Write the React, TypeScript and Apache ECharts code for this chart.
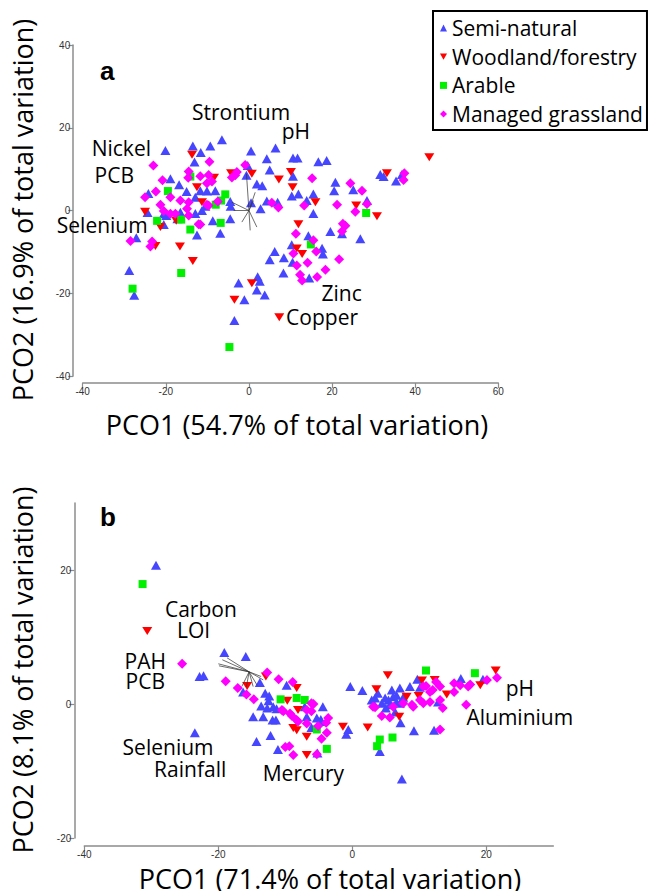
import React, { useEffect, useRef } from "react";
import * as echarts from "echarts";

// ---------- Panel a data (PCO1, PCO2) ----------
const SEMI_A: [number, number][] = [
  [-20.1,14.5],[-13.5,15.6],[-9.3,15.6],[-6.5,17.1],[-11.6,14.0],[-13.1,11.7],[0.5,14.4],[4.3,12.5],[6.4,15.1],[10.6,12.7],[11.7,12.7],[16.7,11.8],[18.7,12.1],[-0.3,10.9],[5.0,9.8],[10.6,8.3],[1.9,6.4],[3.2,6.0],[20.8,6.8],[20.5,4.8],[25.1,5.0],[11.9,4.0],[10.3,3.5],[15.5,4.0],[13.9,2.4],[0.5,1.9],[4.3,2.3],[6.9,2.0],[2.8,0.4],[15.5,-0.7],[-4.4,1.0],[-24.2,4.1],[-16.8,6.2],[-18.9,7.7],[-15.0,4.6],[-12.9,3.2],[-11.7,4.8],[-10.1,4.7],[-8.1,4.8],[-24.4,-0.5],[-20.5,-0.8],[-16.5,-0.4],[-12.9,-0.7],[-11.3,0],[-8.7,-2.5],[-4.5,-2.0],[31.6,8.7],[32.4,8.2],[36.8,8.7],[35.4,7.1],[28.4,2.4],[19.6,-5.1],[22.4,-5.6],[26.8,-6.8],[14.3,-6.1],[10.3,-8.3],[17.6,-9.1],[17.8,-10.5],[6.2,-9.9],[5.0,-11.9],[8.4,-11.4],[10.5,-12.5],[8.3,-15.1],[14.5,-16.3],[2.1,-16.0],[2.6,-17.1],[1.9,-19.2],[3.8,-20.4],[-27.1,-6.6],[-28.8,-14.5],[-27.6,-20.5],[-12.5,-5.9],[-6.9,-5.5],[-20.5,-3.4],[-17.2,-2.0],[-2.5,-17.5],[-1.1,-21.6],[-3.5,-26.6],[-0.6,8.5],[-19.9,-1.2],[-10.5,1.0],[-4.5,2.2]
];
const WOOD_A: [number, number][] = [
  [-13.7,13.5],[-8.4,7.9],[-4.3,9.0],[0.7,8.9],[-12.5,5.6],[7.2,7.5],[10.1,9.3],[10.5,5.6],[16.0,2.0],[25.8,1.2],[11.9,-3.3],[-25.0,-0.3],[-11.3,2.0],[-17.5,-2.5],[43.4,12.9],[33.2,9.0],[30.8,-1.4],[-21.3,-4.0],[-22.5,-8.6],[-16.6,-8.7],[-13.5,-12.2],[0.7,-17.6],[-3.5,-21.6],[7.3,-25.8],[11.5,-9.2],[12.8,-10.5]
];
const ARABLE_A: [number, number][] = [
  [-14.1,8.2],[-19.5,4.7],[-5.7,3.9],[-6.7,2.4],[-8.0,1.4],[-22.1,-2.5],[-16.3,-2.2],[-14.1,-4.6],[-6.8,-3.0],[-16.3,-15.1],[-28.0,-18.9],[-4.7,-33.0],[14.9,-8.2],[28.2,-0.6]
];
const MANAGED_A: [number, number][] = [
  [-23.0,10.9],[-9.5,11.8],[-0.9,11.0],[-2.9,9.3],[-4.1,8.0],[-14.5,9.4],[-11.7,8.3],[-9.7,8.6],[-10.1,6.6],[-8.9,7.0],[-20.8,7.3],[-14.6,7.9],[-22.4,4.6],[-18.9,3.2],[-16.5,2.4],[-21.3,1.4],[-14.5,2.0],[-10.1,1.4],[-7.5,2.2],[-25.0,3.2],[15.2,7.8],[21.2,1.4],[24.4,6.6],[25.6,-0.3],[13.3,1.2],[7.1,0.7],[5.5,1.9],[-20.5,-0.1],[-18.9,-0.8],[-12.1,-3.3],[22.6,-3.2],[23.2,-3.7],[27.2,4.8],[37.4,9.0],[37.2,7.4],[28.4,1.6],[11.3,-5.6],[22.4,-5.0],[15.5,-7.2],[16.2,-9.9],[10.7,-10.4],[14.1,-12.6],[11.5,-13.3],[21.7,-11.8],[18.4,-14.3],[16.4,-16.1],[12.3,-15.5],[12.8,-16.9],[-14.5,-1.2],[-11.7,-3.4],[-9.7,1.2],[-14.9,0.4],[-17.7,-0.8],[-28.5,-7.4],[-23.3,-7.5],[-23.7,-8.7],[-3.3,8.5]
];
const VEC_ORIGIN_A: [number, number] = [0, 0];
const VEC_ENDS_A: [number, number][] = [
  [-4.1,2.0],[-0.6,8.9],[1.1,2.4],[1.5,4.4],[0.3,-4.8],[-1.7,-2.8],[-3.7,0],[1.9,-4.0]
];
const LABELS_A: [number, number, string][] = [
  [-1.9,23.9,"Strontium"],[11.3,19.3,"pH"],[-30.7,15.2,"Nickel"],[-32.4,8.5,"PCB"],[-35.3,-3.6,"Selenium"],[22.3,-20.0,"Zinc"],[17.6,-25.8,"Copper"]
];

// ---------- Panel b data ----------
const SEMI_B: [number, number][] = [
  [-29.3,20.7],[-22.8,4.1],[-22.2,4.2],[-19.1,7.7],[-15.9,7.1],[-13.8,3.2],[-16.3,1.8],[-13.0,1.6],[-9.8,2.8],[-12.5,0.5],[-13.6,-0.3],[-11.8,-0.4],[-12.7,-0.6],[-11.3,-0.7],[-12.4,1.2],[-7.1,-0.4],[-14.8,-1.9],[-13.3,-1.9],[-11.9,-2.4],[-11.4,-2.4],[-6.8,-1.9],[-5.3,-2.1],[-4.4,-0.4],[-4.7,-2.3],[-4.6,-2.6],[-6.1,-3.5],[-5.2,-7.3],[-23.5,-4.3],[-14.3,-5.6],[-12.2,-4.7],[-11.1,-6.8],[-0.6,-3.8],[-0.9,-4.5],[-0.3,2.6],[1.5,2.0],[2.9,0.6],[3.4,0.9],[4.9,0.9],[5.4,0.6],[6.1,1.1],[6.6,0.3],[5.6,-0.1],[6.6,1.3],[7.1,0.1],[4.4,0.1],[7.1,2.4],[8.6,2.6],[9.7,3.7],[10.1,2.5],[12.8,0.3],[7.2,-2.8],[9.2,-4.0],[12.2,-3.9],[4.1,-7.1],[7.4,-11.2],[16.2,3.8],[19.5,3.7],[5.9,2.1],[5.0,-0.6],[3.8,1.6],[7.6,1.0],[6.4,-1.2]
];
const WOOD_B: [number, number][] = [
  [-30.6,10.9],[-15.7,2.7],[-12.9,4.1],[-8.3,2.4],[-9.7,0.5],[-8.1,-0.9],[-8.8,-3.6],[-8.3,-3.9],[-6.8,-4.9],[-6.8,-7.6],[-1.4,-3.4],[2.3,-3.5],[3.6,2.2],[5.3,4.3],[10.4,3.5],[12.3,3.6],[8.1,1.1],[9.9,1.2],[14.1,1.4],[19.1,2.8],[21.4,5.0],[7.0,-1.9]
];
const ARABLE_B: [number, number][] = [
  [-31.3,17.9],[-10.7,0.7],[-8.3,0.9],[-7.1,0.6],[-5.3,-3.8],[-3.8,-6.7],[4.1,-5.3],[6.0,-5.0],[3.7,-6.3],[11.0,5.0],[18.3,4.6]
];
const MANAGED_B: [number, number][] = [
  [-25.4,6.0],[-18.9,3.4],[-17.1,2.4],[-15.8,1.4],[-14.7,0.7],[-12.7,4.7],[-11.0,3.7],[-8.9,3.3],[-5.8,0.0],[-10.5,-0.9],[-10.3,-1.1],[-9.3,-1.4],[-9.0,-1.8],[-6.8,-0.9],[-6.1,-1.1],[-6.1,0.1],[-8.3,-2.4],[-8.1,-2.6],[-3.6,-2.1],[-3.9,-2.8],[-6.8,-2.9],[-5.1,-3.3],[-4.6,-5.2],[-3.8,-4.3],[-10.0,-6.4],[-9.4,-6.3],[-8.8,-7.6],[-5.3,-7.5],[3.4,-0.5],[4.4,-1.8],[5.6,-2.0],[3.1,-0.4],[6.1,-0.4],[7.6,0.1],[9.1,-0.4],[10.1,0.6],[8.9,-0.1],[10.6,2.6],[11.0,2.7],[12.0,2.1],[13.1,2.6],[11.6,0.3],[13.1,0.6],[10.6,0.1],[11.6,1.8],[15.2,3.1],[16.1,2.8],[17.3,2.6],[17.6,2.9],[15.2,1.8],[17.0,-0.1],[13.5,-0.6],[13.1,-3.8],[20.1,3.6],[21.6,3.9],[12.5,3.3]
];
const VEC_ORIGIN_B: [number, number] = [-15.4, 4.8];
const VEC_ENDS_B: [number, number][] = [
  [-20.0,6.0],[-18.7,6.9],[-19.9,5.7],[-19.4,6.6],[-16.5,2.6],[-15.8,2.6],[-14.8,2.6],[-14.2,2.8],[-13.3,3.6],[-13.6,4.1]
];
const LABELS_B: [number, number, string][] = [
  [-22.6,14.2,"Carbon"],[-23.7,11.0,"LOI"],[-30.9,6.4,"PAH"],[-30.9,3.4,"PCB"],[25.0,2.4,"pH"],[25.0,-1.9,"Aluminium"],[-27.5,-6.4,"Selenium"],[-24.2,-9.7,"Rainfall"],[-7.3,-10.3,"Mercury"]
];

const GROUPS = ["Semi-natural", "Woodland/forestry", "Arable", "Managed grassland"];
const X_TICKS_A = [-40, -20, 0, 20, 40, 60];
const Y_TICKS_A = [-40, -20, 0, 20, 40];
const X_TICKS_B = [-40, -20, 0, 20];
const Y_TICKS_B = [-20, 0, 20];

const TITLE_X_A = "PCO1 (54.7% of total variation)";
const TITLE_Y_A = "PCO2 (16.9% of total variation)";
const TITLE_X_B = "PCO1 (71.4% of total variation)";
const TITLE_Y_B = "PCO2 (8.1% of total variation)";

const FONT = "'Open Sans', 'Noto Sans', sans-serif";
const AXIS_COLOR = "#8c8c8c";
const DOWN_TRI = "path://M0,0L10,0L5,9Z";

const STYLES: Record<string, any> = {
  "Semi-natural": { symbol: "triangle", symbolSize: [10, 9], symbolRotate: 0, color: "#4646ff" },
  "Woodland/forestry": { symbol: "triangle", symbolSize: [10, 8], symbolRotate: 180, color: "#ff0000" },
  "Arable": { symbol: "rect", symbolSize: 8, symbolRotate: 0, color: "#00f000" },
  "Managed grassland": { symbol: "diamond", symbolSize: [10, 10], symbolRotate: 0, color: "#ff00ff" },
};

function scatter(name: string, data: [number, number][], idx: number) {
  const s = STYLES[name];
  return {
    type: "scatter",
    name,
    xAxisIndex: idx,
    yAxisIndex: idx,
    data,
    symbol: s.symbol,
    symbolSize: s.symbolSize,
    symbolRotate: s.symbolRotate,
    itemStyle: { color: s.color, opacity: 1 },
    silent: true,
    z: 2,
  };
}

function vectors(origin: [number, number], ends: [number, number][], idx: number) {
  return {
    type: "lines",
    coordinateSystem: "cartesian2d",
    xAxisIndex: idx,
    yAxisIndex: idx,
    data: ends.map((e) => ({ coords: [origin, e] })),
    lineStyle: { color: "#333", width: 0.8, opacity: 0.9 },
    silent: true,
    z: 3,
  };
}

function labels(items: [number, number, string][], idx: number) {
  return {
    type: "scatter",
    xAxisIndex: idx,
    yAxisIndex: idx,
    data: items.map((d) => ({ value: [d[0], d[1]], name: d[2] })),
    symbol: "circle",
    symbolSize: 1,
    itemStyle: { color: "rgba(0,0,0,0)" },
    label: {
      show: true,
      position: "inside",
      formatter: (p: any) => p.name,
      fontFamily: FONT,
      fontSize: 21,
      color: "#000",
      opacity: 1,
      textBorderWidth: 0,
      textBorderColor: "rgba(0,0,0,0)",
    },
    silent: true,
    z: 4,
  };
}

const LABEL_FONT = "'Liberation Sans', Arial, sans-serif";

function axis(idx: number, min: number, max: number, ticks: number[], offset: number) {
  return {
    type: "value",
    gridIndex: idx,
    min,
    max,
    interval: 20,
    offset,
    splitLine: { show: false },
    axisLine: { show: true, onZero: false, lineStyle: { color: AXIS_COLOR, width: 1.5 } },
    axisTick: { show: true, length: 5, customValues: ticks, lineStyle: { color: AXIS_COLOR, width: 1.2 } },
    axisLabel: { customValues: ticks, margin: 3, fontFamily: LABEL_FONT, fontSize: 10, color: "#333" },
  };
}

function titleText(text: string, x: number, y: number, rotate: boolean) {
  return {
    type: "text",
    x,
    y,
    rotation: rotate ? Math.PI / 2 : 0,
    style: {
      text,
      fontFamily: FONT,
      fontSize: 27,
      fill: "#000",
      align: "center",
      verticalAlign: "middle",
    },
    silent: true,
  };
}

export default function App() {
  const ref = useRef<HTMLDivElement>(null);
  useEffect(() => {
    if (!ref.current) return;
    const chart = echarts.init(ref.current, undefined, { renderer: "svg" });
    const option: any = {
      animation: false,
      backgroundColor: "#ffffff",
      grid: [
        { left: 82.7, top: 45, width: 415.6, height: 331 },
        { left: 84.3, top: 503, width: 469, height: 335 },
      ],
      xAxis: [axis(0, -40, 60, X_TICKS_A, 7), axis(1, -40, 30, X_TICKS_B, 8)],
      yAxis: [axis(0, -40, 40, Y_TICKS_A, 9.5), axis(1, -20, 30, Y_TICKS_B, 10)],
      legend: {
        data: GROUPS.map((g) =>
          g === "Woodland/forestry" ? { name: g, icon: DOWN_TRI } : { name: g }
        ),
        orient: "vertical",
        left: 433,
        top: 11,
        borderColor: "#000",
        borderWidth: 2,
        borderRadius: 0,
        padding: [6, 4, 5, 7],
        itemGap: 6.7,
        itemWidth: 7,
        itemHeight: 7,
        textStyle: { fontFamily: FONT, fontSize: 21, color: "#000", lineHeight: 22 },
        selectedMode: false,
      },
      graphic: [
        { type: "text", x: 100, y: 71, style: { text: "a", fontFamily: LABEL_FONT, fontWeight: "bold", fontSize: 26, fill: "#000", align: "left", verticalAlign: "middle" }, silent: true },
        { type: "text", x: 100, y: 517, style: { text: "b", fontFamily: LABEL_FONT, fontWeight: "bold", fontSize: 26, fill: "#000", align: "left", verticalAlign: "middle" }, silent: true },
        titleText(TITLE_X_A, 297, 424, false),
        titleText(TITLE_Y_A, 22, 210, true),
        titleText(TITLE_X_B, 330, 878, false),
        titleText(TITLE_Y_B, 22, 670, true),
      ],
      series: [
        scatter(GROUPS[0], SEMI_A, 0),
        scatter(GROUPS[1], WOOD_A, 0),
        scatter(GROUPS[2], ARABLE_A, 0),
        scatter(GROUPS[3], MANAGED_A, 0),
        vectors(VEC_ORIGIN_A, VEC_ENDS_A, 0),
        labels(LABELS_A, 0),
        scatter(GROUPS[0], SEMI_B, 1),
        scatter(GROUPS[1], WOOD_B, 1),
        scatter(GROUPS[2], ARABLE_B, 1),
        scatter(GROUPS[3], MANAGED_B, 1),
        vectors(VEC_ORIGIN_B, VEC_ENDS_B, 1),
        labels(LABELS_B, 1),
      ],
    };
    chart.setOption(option);
    return () => chart.dispose();
  }, []);
  return (
    <div
      ref={ref}
      style={{ position: "absolute", left: 0, top: 0, width: 649, height: 891, background: "#fff" }}
    />
  );
}
